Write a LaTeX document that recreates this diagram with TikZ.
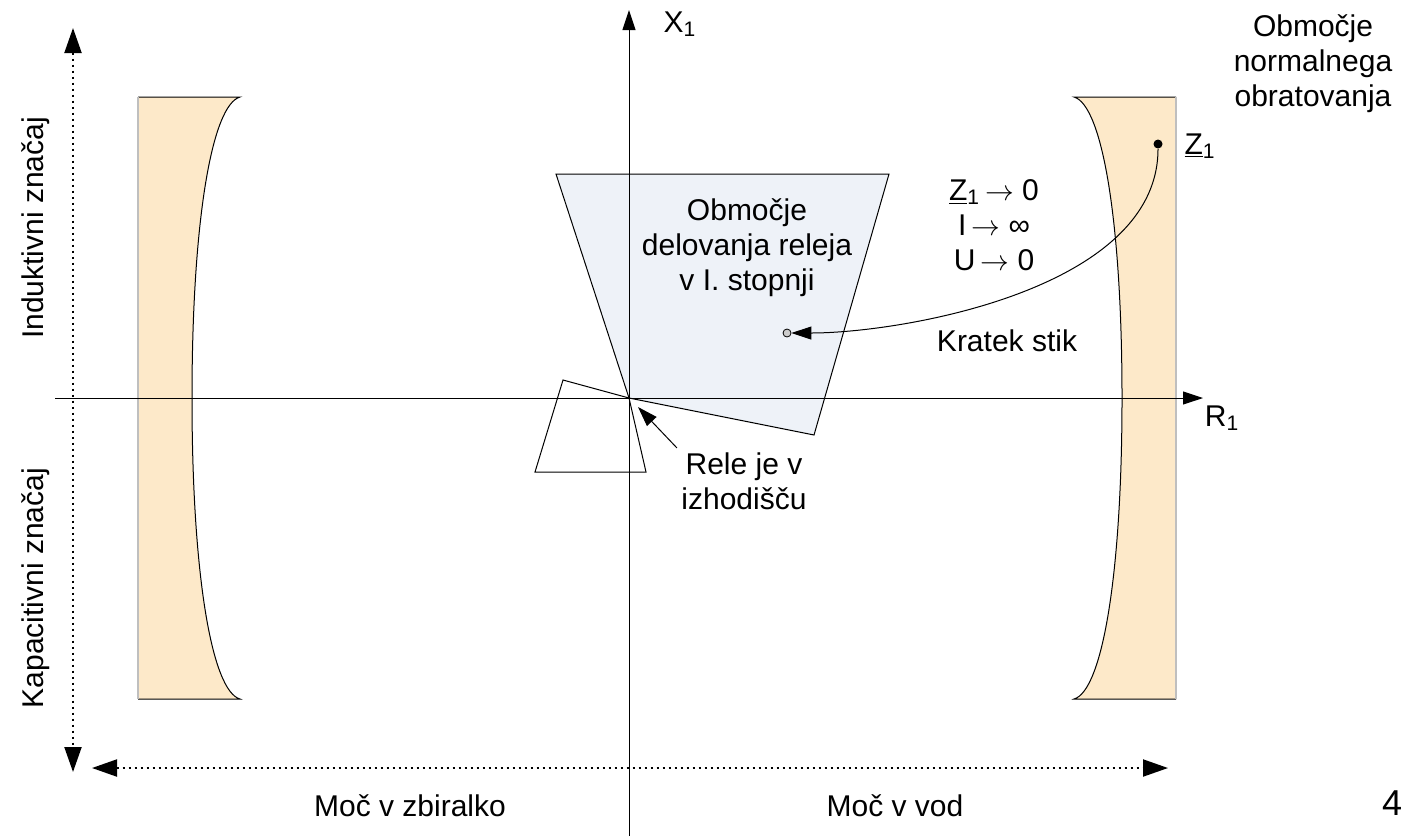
\documentclass[tikz,border=0pt]{standalone}
\usepackage{fontspec}
\setmainfont{Liberation Sans}
\usepackage{xcolor}
\usetikzlibrary{arrows.meta}
\definecolor{lensfill}{HTML}{FDE9C9}
\definecolor{zonefill}{HTML}{EEF2F8}
\definecolor{edgegray}{HTML}{BFBFBF}

\begin{document}
\begin{tikzpicture}[x=0.5pt, y=-0.5pt, line width=0.5pt,
    font=\fontsize{15}{17.5}\selectfont, >={Triangle[length=10pt,width=6.5pt]},
    lbl/.style={inner sep=2pt, align=center},
    dotarrow/.style={{Triangle[length=12.5pt,width=8.5pt]}-{Triangle[length=12.5pt,width=8.5pt]}, line width=1pt, dash pattern=on 1pt off 2pt}]
  \useasboundingbox (0,0) rectangle (1406,836);

  % normal operation areas
  \fill[lensfill] (138,97) -- (240,97) .. controls (212,105) and (192,220) .. (192,398)
    .. controls (192,576) and (212,691) .. (240,699) -- (138,699) -- cycle;
  \draw (138,97) -- (240,97) .. controls (212,105) and (192,220) .. (192,398)
    .. controls (192,576) and (212,691) .. (240,699) -- (138,699);
  \draw[edgegray, line width=1pt] (138,97) -- (138,699);
  \fill[lensfill] (1176,97) -- (1074,97) .. controls (1102,105) and (1122,220) .. (1122,398)
    .. controls (1122,576) and (1102,691) .. (1074,699) -- (1176,699) -- cycle;
  \draw (1176,97) -- (1074,97) .. controls (1102,105) and (1122,220) .. (1122,398)
    .. controls (1122,576) and (1102,691) .. (1074,699) -- (1176,699);
  \draw[edgegray, line width=1pt] (1176,97) -- (1176,699);

  % relay zones
  \coordinate (O) at (629,398);
  \draw[fill=zonefill] (O) -- (556,174) -- (889,174) -- (814,435) -- cycle;
  \draw (O) -- (563,380) -- (535,472) -- (646,472) -- cycle;

  % axes
  \draw[->] (55,398) -- (1203,398);
  \draw[->] (629,836) -- (629,10);
  \draw[dotarrow] (73,28) -- (73,772);
  \draw[dotarrow] (92,768) -- (1168,768);

  \node[lbl] (x1) at (680,24) {X\textsubscript{1}};
  \node[lbl] (r1) at (1222,418) {R\textsubscript{1}};
  \node[lbl, rotate=90] (ind) at (36,228) {Induktivni značaj};
  \node[lbl, rotate=90] (kap) at (36,588) {Kapacitivni značaj};
  \node[lbl] (zbir) at (410,806) {Moč v zbiralko};
  \node[lbl] (vod) at (895,806) {Moč v vod};
  \node[lbl, font=\fontsize{18}{20}\selectfont] (num) at (1392,803) {4};

  \node[lbl] (zone) at (747,248) {Območje\\delovanja releja\\v I. stopnji};
  \node[lbl] (normal) at (1313,64) {Območje\\normalnega\\obratovanja};
  \node[lbl] (limits) at (994,225) {\underline{Z}\textsubscript{1}\,$\rightarrow$ 0\\I\,$\rightarrow$ ∞\\U\,$\rightarrow$ 0};
  \node[lbl] (kratek) at (1007,341) {Kratek stik};
  \node[lbl] (rele) at (744,481) {Rele je v\\izhodišču};

  \node[circle, fill, inner sep=0pt, minimum size=4.5pt] (zdot) at (1158,144) {};
  \node[lbl, anchor=west] (z1) at (1180,146) {\underline{Z}\textsubscript{1}};
  \node[circle, draw, fill=gray!40, inner sep=0pt, minimum size=4pt, line width=0.4pt] (fault) at (787,333) {};
  \coordinate (reletip) at (638,407);

  \draw[->] (zdot) .. controls +(0,146) and +(113,0) .. (fault);
  \draw[->] (rele.north west) -- (reletip);
\end{tikzpicture}
\end{document}
